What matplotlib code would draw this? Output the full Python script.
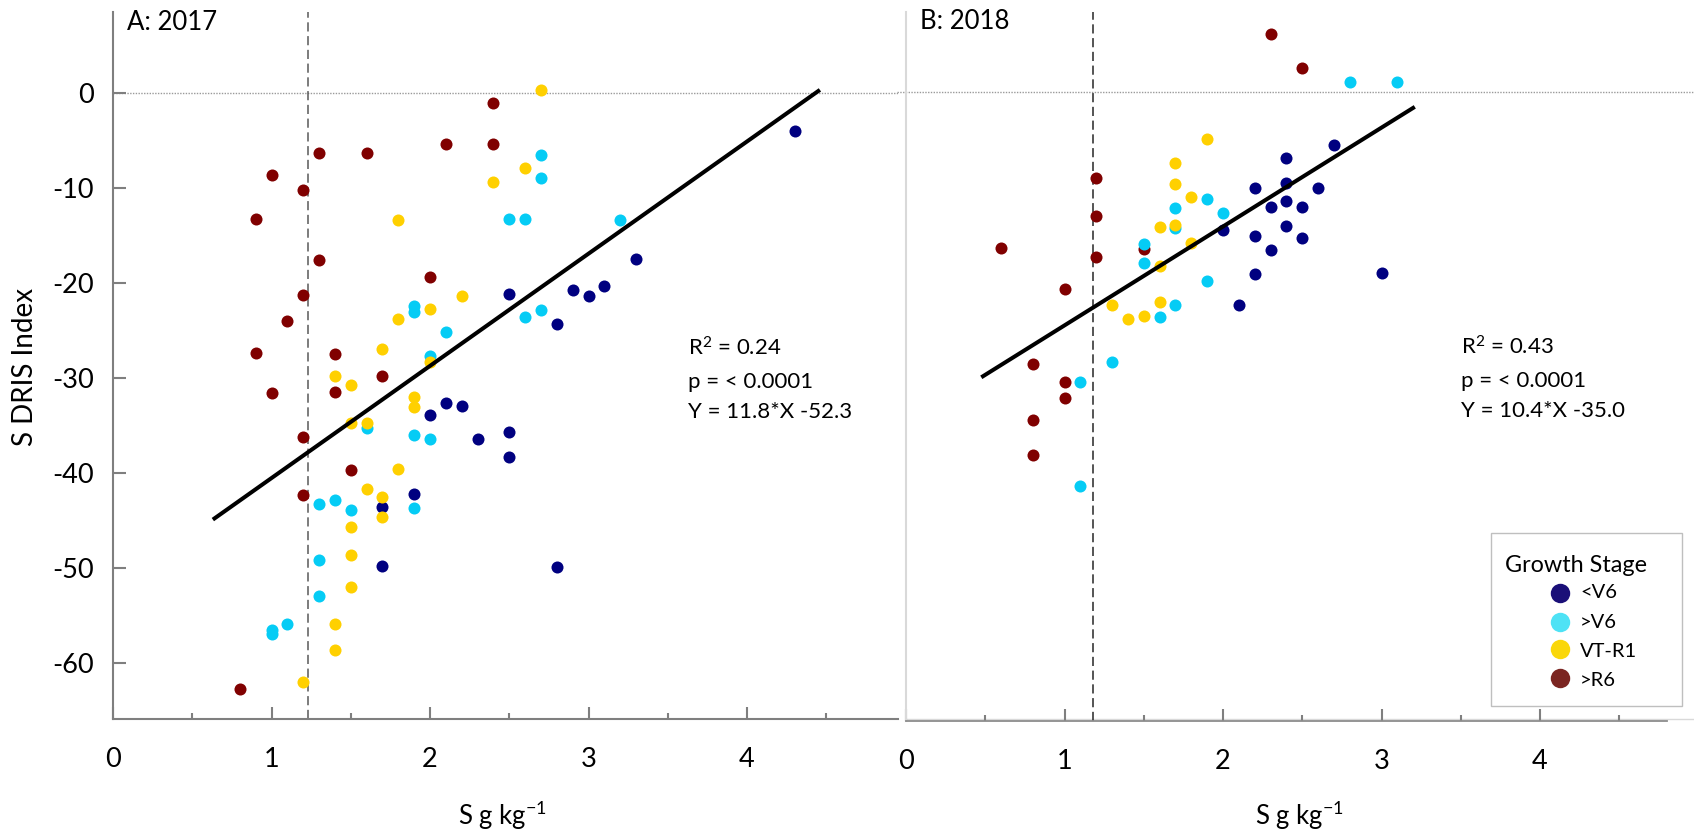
import matplotlib
matplotlib.use("Agg")
import matplotlib.pyplot as plt
from matplotlib.lines import Line2D
from matplotlib.patches import Rectangle
import numpy as np

plt.rcParams['font.family'] = ['Lato', 'DejaVu Sans']
plt.rcParams['axes.unicode_minus'] = False

# ---- data: 2017 (panel A) ----
a_v6lo_x = [4.3, 3.3, 2.9, 3.1, 3.0, 2.5, 2.8, 2.1, 2.2, 2.0, 2.3, 2.5, 2.5, 1.9, 1.7, 1.7, 2.8]
a_v6lo_y = [-4.0, -17.5, -20.7, -20.3, -21.4, -21.1, -24.3, -32.6, -32.9, -33.9, -36.4, -35.7, -38.3,
            -42.2, -43.5, -49.8, -49.9]
a_v6hi_x = [2.7, 2.7, 2.5, 2.6, 3.2, 1.9, 1.9, 2.7, 2.6, 2.1, 2.0, 1.6, 1.9, 2.0, 1.3, 1.4, 1.5, 1.9,
            1.3, 1.3, 1.1, 1.0, 1.0]
a_v6hi_y = [-6.5, -8.9, -13.2, -13.2, -13.4, -22.4, -23.0, -22.8, -23.6, -25.1, -27.7, -35.2, -36.0,
            -36.4, -43.2, -42.8, -43.9, -43.7, -49.1, -52.9, -55.9, -56.5, -56.9]
a_vt_x = [2.7, 2.6, 2.4, 1.8, 2.2, 2.0, 1.8, 1.7, 2.0, 1.4, 1.5, 1.9, 1.9, 1.5, 1.6, 1.8, 1.6, 1.7, 1.7,
          1.5, 1.5, 1.5, 1.4, 1.4, 1.2]
a_vt_y = [0.3, -7.9, -9.4, -13.4, -21.3, -22.7, -23.8, -26.9, -28.3, -29.8, -30.7, -32.0, -33.0, -34.7,
          -34.7, -39.5, -41.7, -42.5, -44.6, -45.6, -48.6, -52.0, -55.9, -58.6, -62.0]
a_r6_x = [2.4, 2.1, 2.4, 1.3, 1.6, 1.0, 1.2, 0.9, 1.3, 2.0, 1.2, 1.1, 0.9, 1.4, 1.7, 1.0, 1.4, 1.2, 1.5,
          1.2, 0.8]
a_r6_y = [-1.1, -5.4, -5.4, -6.3, -6.3, -8.6, -10.2, -13.2, -17.6, -19.4, -21.2, -24.0, -27.3, -27.5,
          -29.8, -31.6, -31.4, -36.2, -39.6, -42.3, -62.7]

# ---- data: 2018 (panel B) ----
b_v6lo_x = [2.7, 2.4, 2.2, 2.4, 2.6, 2.3, 2.4, 2.5, 2.0, 2.4, 2.2, 2.5, 2.3, 2.2, 3.0, 2.1]
b_v6lo_y = [-5.6, -7.0, -10.2, -9.6, -10.2, -12.1, -11.5, -12.2, -14.6, -14.1, -15.2, -15.4, -16.7,
            -19.2, -19.1, -22.5]
b_v6hi_x = [2.8, 3.1, 1.9, 1.7, 2.0, 1.7, 1.5, 1.5, 1.9, 1.7, 1.6, 1.3, 1.1, 1.1]
b_v6hi_y = [1.0, 1.0, -11.3, -12.3, -12.8, -14.4, -16.0, -18.0, -19.9, -22.5, -23.7, -28.4, -30.6, -41.5]
b_vt_x = [1.9, 1.7, 1.7, 1.8, 1.6, 1.7, 1.8, 1.6, 1.3, 1.4, 1.5, 1.6]
b_vt_y = [-5.0, -7.5, -9.7, -11.1, -14.3, -14.0, -15.9, -18.4, -22.5, -23.9, -23.6, -22.1]
b_r6_x = [2.3, 2.5, 1.2, 1.2, 0.6, 1.2, 1.5, 1.0, 0.8, 1.0, 1.0, 0.8, 0.8]
b_r6_y = [6.1, 2.5, -9.1, -13.1, -16.5, -17.4, -16.6, -20.8, -28.7, -30.6, -32.2, -34.6, -38.2]

# regression fits (slope, intercept, drawn x range), critical value lines
fit_a = (11.8, -52.3, 0.63, 4.46)
fit_b = (10.4, -35.0, 0.475, 3.21)
crit_a = 1.23
crit_b = 1.18
stats_a = ["R$^2$ = 0.24", "p = < 0.0001", "Y = 11.8*X -52.3"]
stats_b = ["R$^2$ = 0.43", "p = < 0.0001", "Y = 10.4*X -35.0"]

stages = ["<V6", ">V6", "VT-R1", ">R6"]
dot_colors = ["#000080", "#05ccf5", "#ffd000", "#800000"]
leg_colors = ["#1a0f78", "#4ee2f5", "#fad70a", "#7b2521"]

plt.rcParams['mathtext.default'] = 'regular'

W, H = 1694, 836
fig = plt.figure(figsize=(W / 100, H / 100), dpi=100)
fig.patch.set_facecolor("white")


def px_box(left, top, right, bottom):
    return [left / W, 1 - bottom / H, (right - left) / W, (bottom - top) / H]


ax_a = fig.add_axes(px_box(113, 11.7, 113 + 4.95 * 158.5, 719.3))
ax_b = fig.add_axes(px_box(906, 11.7, 906 + 4.8 * 158.5, 721))
ax_a.set_xlim(0, 4.95)
ax_a.set_ylim(-(719.3 - 93) / 9.508, (93 - 11.7) / 9.508)
ax_b.set_xlim(0, 4.8)
ax_b.set_ylim(-(721 - 91.5) / 9.508, (91.5 - 11.7) / 9.508)

panels = [
    (ax_a, [(a_v6lo_x, a_v6lo_y), (a_v6hi_x, a_v6hi_y), (a_vt_x, a_vt_y), (a_r6_x, a_r6_y)],
     fit_a, crit_a, stats_a, 3.63, "A: 2017"),
    (ax_b, [(b_v6lo_x, b_v6lo_y), (b_v6hi_x, b_v6hi_y), (b_vt_x, b_vt_y), (b_r6_x, b_r6_y)],
     fit_b, crit_b, stats_b, 3.50, "B: 2018"),
]

draw_order = [0, 3, 1, 2]
for ax, groups, fit, crit, stats, sx, title in panels:
    for i in draw_order:
        gx, gy = groups[i]
        ax.scatter(gx, gy, s=75, c=dot_colors[i], linewidths=0, zorder=3)
    slope, icpt, x0, x1 = fit
    xs = np.array([x0, x1])
    ax.plot(xs, slope * xs + icpt, color="black", lw=2.9, zorder=4, solid_capstyle="butt")
    for txt, ty in zip(stats, [-27.66, -31.06, -34.2]):
        ax.text(sx, ty, txt, fontsize=16, va="baseline", ha="left")
    ax.text(0.09, 6.6, title, fontsize=18.5, va="baseline", ha="left")
    ax.spines["top"].set_visible(False)
    ax.spines["right"].set_visible(False)
    ax.set_xticks([0, 1, 2, 3, 4])
    ax.set_xticklabels(["0", "1", "2", "3", "4"])
    ax.set_xticks([0.5, 1.5, 2.5, 3.5, 4.5], minor=True)
    ax.tick_params(axis="x", which="major", direction="in", length=8.5, width=1.5,
                   color="#7f7f7f", pad=20, labelsize=19.5)
    ax.tick_params(axis="x", which="minor", direction="in", length=4, width=1.5,
                   color="#7f7f7f")

# critical value lines and zero reference line
ax_a.axvline(crit_a, color="#595959", lw=1.1, ls=(0, (6, 3)), zorder=2)
ax_b.axvline(crit_b, color="#262626", lw=1.1, ls=(0, (6, 3)), zorder=2)
ax_a.axhline(0, color="#9a9a9a", lw=1, ls=(0, (1, 1)), zorder=1)
ax_b.axhline(0, xmin=-0.012, xmax=(W - 906) / (4.8 * 158.5), color="#9a9a9a", lw=1,
             ls=(0, (1, 1)), zorder=1, clip_on=False)
yb = ax_b.get_ylim()[0]
ax_b.axhline(yb + 0.2, xmin=0, xmax=(W - 906) / (4.8 * 158.5), color="#d9d9d9", lw=1,
             zorder=0, clip_on=False)

# panel A y axis
ax_a.set_yticks([0, -10, -20, -30, -40, -50, -60])
ax_a.tick_params(axis="y", direction="in", length=9.4, width=1.5, color="#7f7f7f",
                 pad=14, labelsize=19.5)
ax_a.spines["left"].set_color("#7f7f7f")
ax_a.spines["left"].set_linewidth(1.5)
ax_a.spines["bottom"].set_color("#7f7f7f")
ax_a.spines["bottom"].set_linewidth(1.5)

# panel B y axis hidden
ax_b.tick_params(axis="y", left=False, labelleft=False)
ax_b.spines["left"].set_color("#d9d9d9")
ax_b.spines["left"].set_linewidth(1.5)
ax_b.spines["bottom"].set_color("#8c8c8c")
ax_b.spines["bottom"].set_linewidth(1.3)

# axis titles
fig.text(25 / W, 1 - 367 / H, "S DRIS Index", rotation=90, ha="center", va="center", fontsize=20)
fig.text(502 / W, 1 - 825 / H, "S g kg$^{-1}$", ha="center", va="baseline", fontsize=18.5)
fig.text(1299 / W, 1 - 825 / H, "S g kg$^{-1}$", ha="center", va="baseline", fontsize=18.5)

# legend box
fig.add_artist(Rectangle((1490.7 / W, 1 - 705.7 / H), (1682.3 - 1490.7) / W, (705.7 - 532.7) / H,
                         transform=fig.transFigure, facecolor="white", edgecolor="#bfbfbf",
                         lw=1, zorder=5))
fig.text(1505 / W, 1 - 571.7 / H, "Growth Stage", fontsize=16.8, va="baseline", ha="left", zorder=6)
marker_y = [592.7, 621.7, 649, 678.3]
label_y = [598.3, 628.3, 656.7, 686]
for lab, col, my, ly in zip(stages, leg_colors, marker_y, label_y):
    fig.add_artist(Line2D([1560 / W], [1 - my / H], marker="o", ms=14, mew=0, color=col,
                          transform=fig.transFigure, zorder=6))
    fig.text(1580 / W, 1 - ly / H, lab, fontsize=14.5, va="baseline", ha="left", zorder=6)

fig.savefig("out.png", dpi=100, facecolor="white")
